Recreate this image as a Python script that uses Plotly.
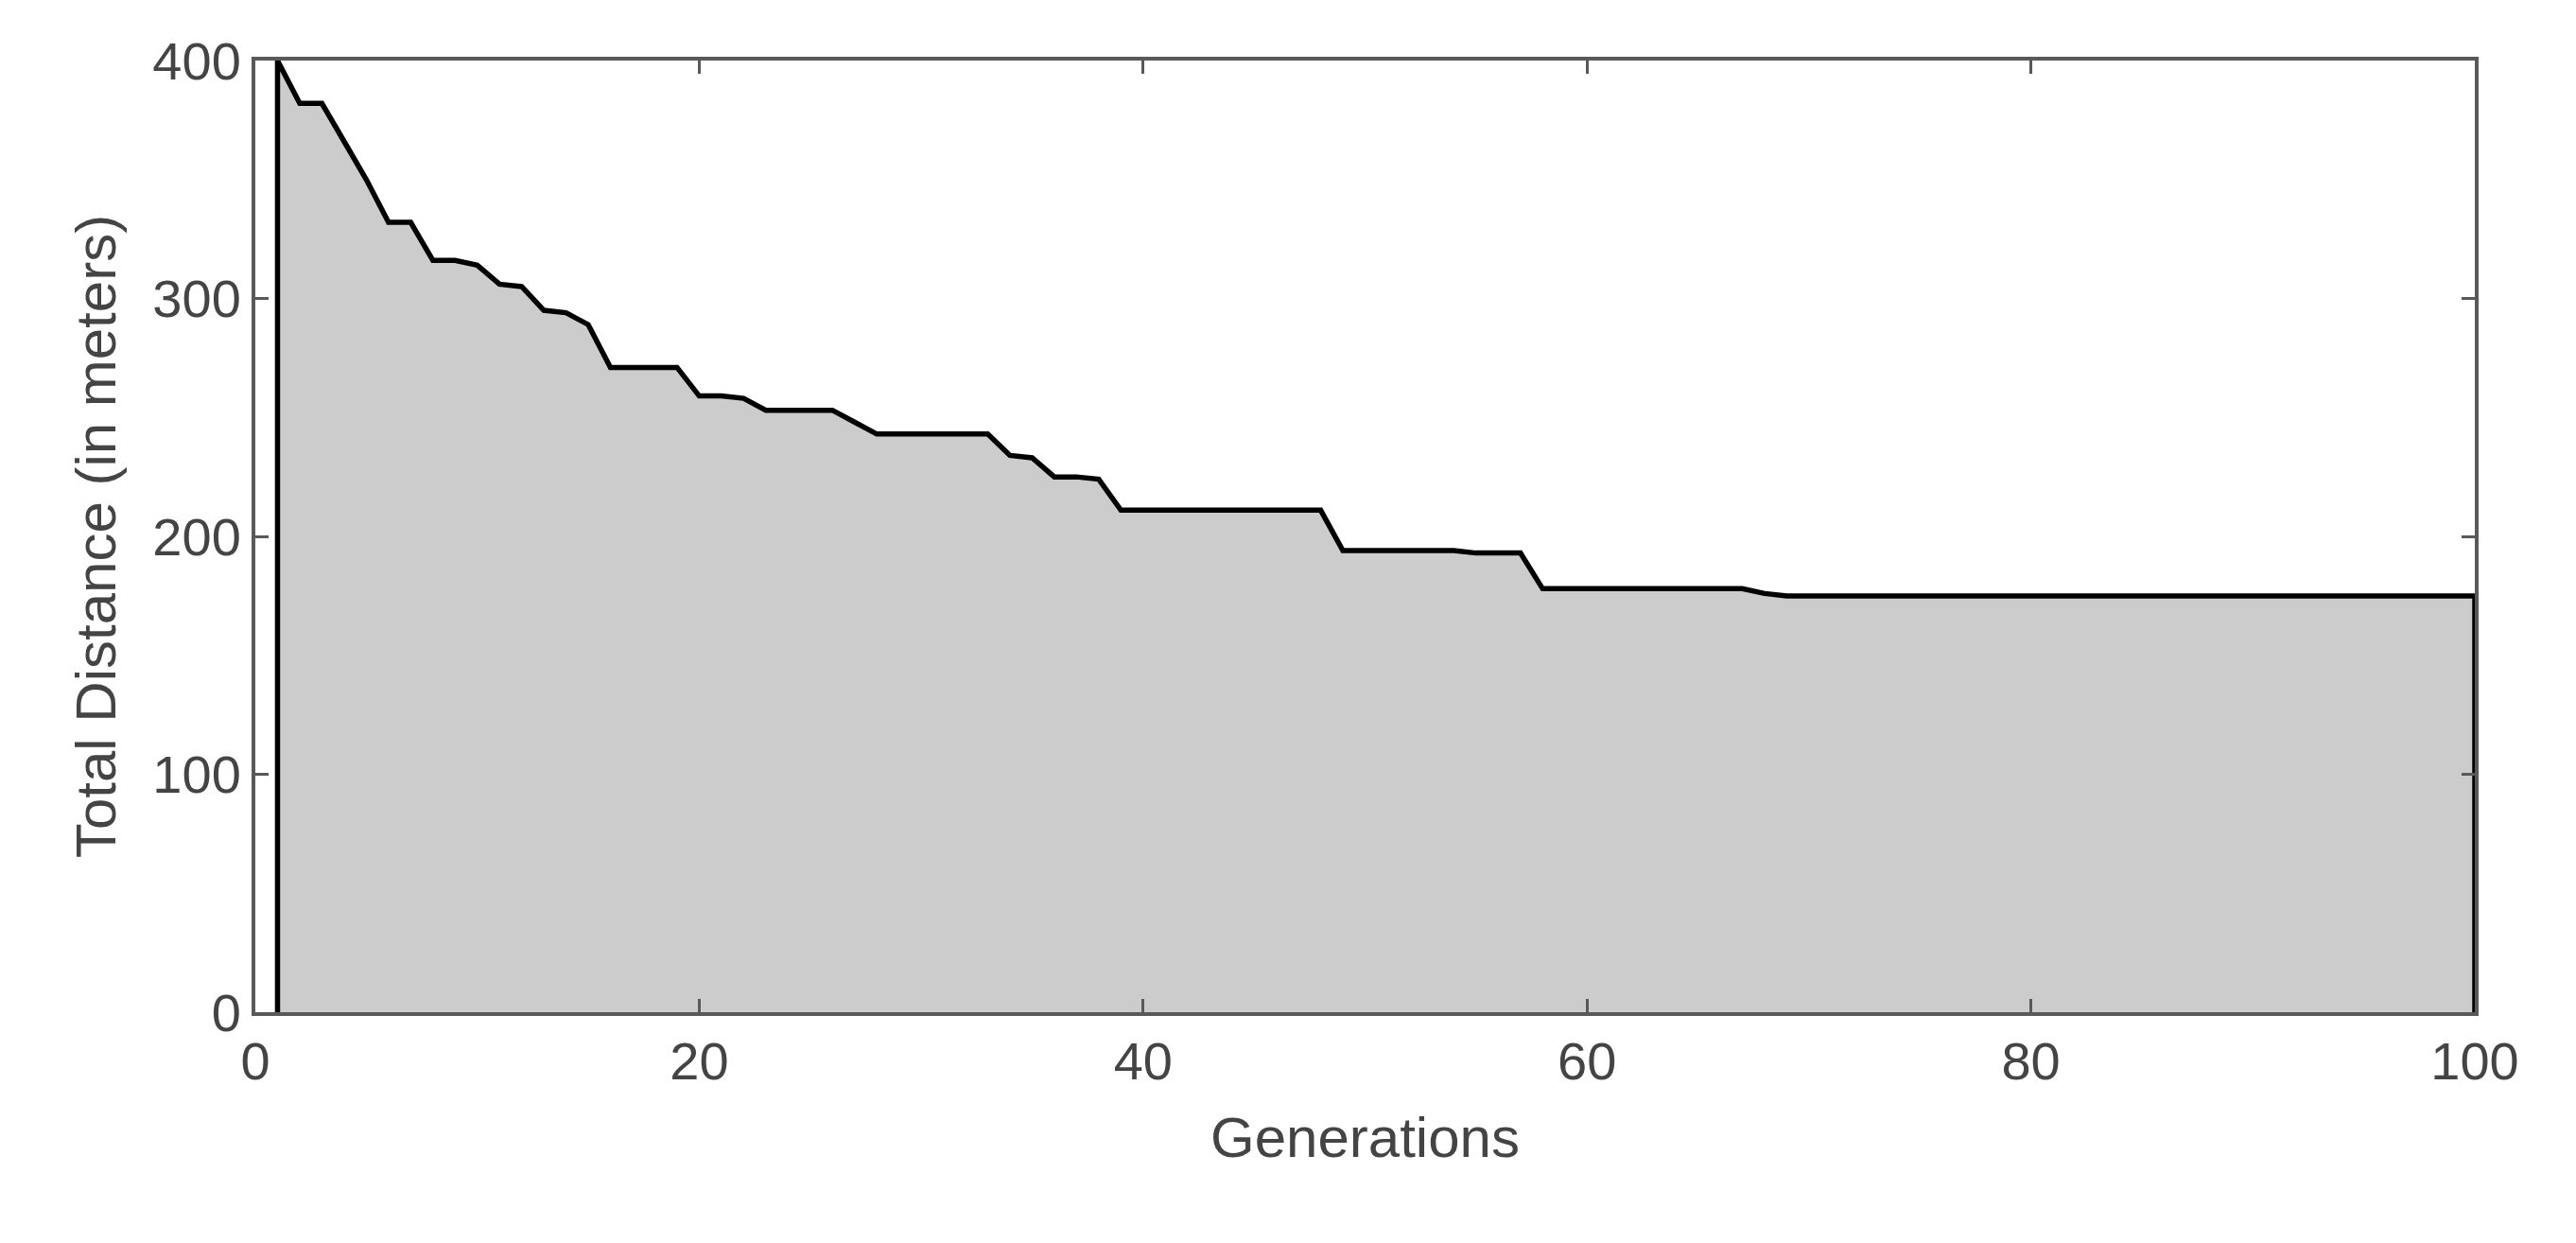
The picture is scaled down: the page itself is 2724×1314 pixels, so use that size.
import plotly.graph_objects as go

generations = list(range(1, 101))
best_distance = (
    [400, 382, 382, 366, 350, 332, 332, 316, 316, 314,
     306, 305, 295, 294, 289, 271, 271, 271, 271, 259,
     259, 258, 253, 253, 253, 253, 248, 243, 243, 243,
     243, 243, 243, 234, 233, 225, 225, 224, 211, 211,
     211, 211, 211, 211, 211, 211, 211, 211, 194, 194,
     194, 194, 194, 194, 193, 193, 193, 178, 178, 178,
     178, 178, 178, 178, 178, 178, 178, 176]
    + [175] * 32
)

# close the polygon down to zero at both ends
xs = [generations[0]] + generations + [generations[-1]]
ys = [0] + best_distance + [0]

fig = go.Figure()
fig.add_trace(go.Scatter(
    x=xs, y=ys,
    mode="lines",
    fill="toself",
    fillcolor="#cccccc",
    line=dict(color="black", width=5.5),
    showlegend=False,
))

axis_common = dict(
    showgrid=False, zeroline=False, showline=True, mirror="ticks",
    linecolor="#595959", linewidth=4, ticks="inside", ticklen=14,
    tickwidth=3, tickcolor="#595959",
    tickfont=dict(size=56, color="#444444"),
)

fig.update_xaxes(range=[0, 100], tickvals=[0, 20, 40, 60, 80, 100],
                 title=dict(text="Generations", font=dict(size=60, color="#444444"), standoff=30),
                 **axis_common)
fig.update_yaxes(range=[0, 400], tickvals=[0, 100, 200, 300, 400],
                 title=dict(text="Total Distance (in meters)", font=dict(size=60, color="#444444"), standoff=20),
                 **axis_common)

fig.update_layout(
    width=2724, height=1314,
    margin=dict(l=262, r=115, t=56, b=252),
    paper_bgcolor="white",
    plot_bgcolor="white",
    font=dict(family="Arial"),
)

fig.write_html("out.html")
